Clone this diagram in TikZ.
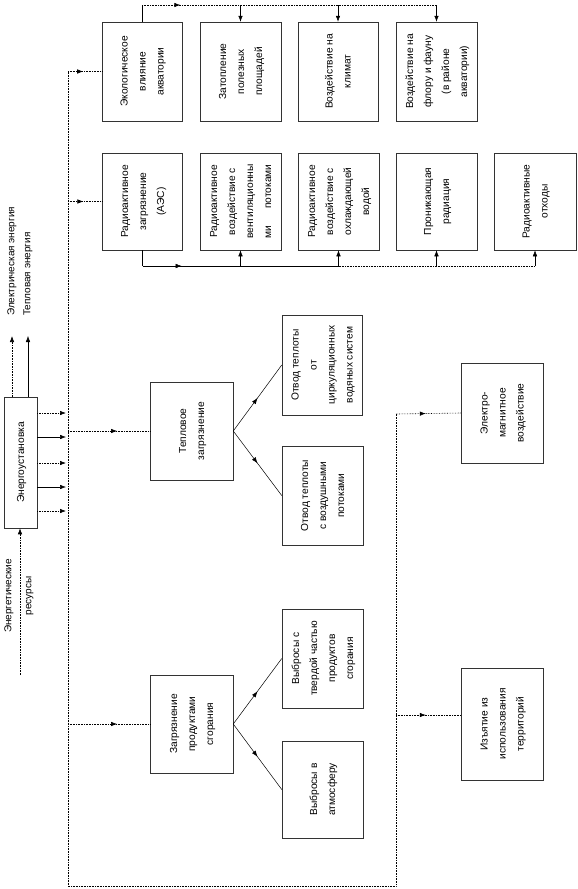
\documentclass[tikz,border=0pt]{standalone}
\usepackage{graphicx}
\usepackage{fontspec}
\setmainfont{Liberation Sans}
\usetikzlibrary{arrows.meta}
\usetikzlibrary{decorations.markings}

\newcommand{\vtxt}[1]{\rotatebox{90}{\begin{tabular}{@{}c@{}}#1\end{tabular}}}

\tikzset{
  box/.style={draw=black!80, line width=0.5pt, inner sep=0pt, minimum width=80pt, minimum height=99pt},
  lbl/.style={rotate=90, inner sep=0pt, align=center, font=\fontsize{10}{20}\selectfont},
  dline/.style={densely dotted, line width=0.6pt},
  sline/.style={line width=0.5pt},
  tip/.style={-{Latex[length=6pt,width=4.5pt]}},
  midtip/.style={postaction={decorate}, decoration={markings,
      mark=at position #1 with {\arrow{Latex[length=6pt,width=4.5pt]}}}},
  midtip/.default=0.5
}

\begin{document}
\begin{tikzpicture}[x=1pt, y=-1pt, font=\fontsize{10.2}{18}\selectfont]
  \useasboundingbox (0,0) rectangle (578,889);

  % energy plant
  \node[box, minimum width=33pt, minimum height=131pt] (plant) at (20.5,462.5) {\vtxt{Энергоустановка}};

  % upper rows
  \node[box] (eco) at (142,71.5) {\vtxt{Экологическое\\влияние\\акватории}};
  \node[box, minimum width=81pt] (flood) at (240.5,71.5) {\vtxt{Затопление\\полезных\\площадей}};
  \node[box] (climate) at (338,71.5) {\vtxt{Воздействие на\\климат}};
  \node[box, minimum width=81pt] (flora) at (436.5,71.5) {\vtxt{Воздействие на\\флору и фауну\\(в районе\\акватории)}};

  \node[box, minimum height=97pt] (radpol) at (142.5,201.5) {\vtxt{Радиоактивное\\загрязнение\\(АЭС)}};
  \node[box, minimum height=97pt, minimum width=81pt] (radvent) at (240.5,201.5) {\vtxt{Радиоактивное\\воздействие с\\вентиляционны\\ми\hfill потоками}};
  \node[box, minimum height=97pt, minimum width=81pt] (radcool) at (338.5,201.5) {\vtxt{Радиоактивное\\воздействие с\\охлаждающей\\водой}};
  \node[box, minimum height=97pt, minimum width=81pt] (penetr) at (436.5,201.5) {\vtxt{Проникающая\\радиация}};
  \node[box, minimum height=97pt, minimum width=82pt] (waste) at (535,201.5) {\vtxt{Радиоактивные\\отходы}};

  % middle
  \node[box, minimum width=83pt, minimum height=98pt] (heat) at (191.5,431) {\vtxt{Тепловое\\загрязнение}};
  \node[box, minimum height=100pt] (heatwater) at (322,365) {\vtxt{Отвод теплоты\\от\\циркуляционных\\водяных систем}};
  \node[box, minimum width=81pt] (heatair) at (322.5,495.5) {\vtxt{Отвод теплоты\\с воздушными\\потоками}};
  \node[box, minimum width=83pt, minimum height=98pt] (comb) at (191.5,724) {\vtxt{Загрязнение\\продуктами\\сгорания}};
  \node[box, minimum width=81pt] (emsolid) at (322.5,658.5) {\vtxt{Выбросы с\\твердой частью\\продуктов\\сгорания}};
  \node[box, minimum width=81pt, minimum height=97pt] (ematm) at (322.5,789.5) {\vtxt{Выбросы в\\атмосферу}};
  \node[box, minimum width=82pt, minimum height=100pt] (emag) at (502,413) {\vtxt{Электро-\\магнитное\\воздействие}};
  \node[box, minimum width=82pt, minimum height=112pt] (land) at (502,724) {\vtxt{Изъятие из\\использования\\территорий}};

  % labels
  \node[lbl, anchor=west] (elecl) at (12,316) {Электрическая энергия};
  \node[lbl, anchor=west] (therml) at (28,316) {Тепловая энергия};
  \node[lbl] (resl) at (19,596) {Энергетические\\ресурсы};

  \coordinate (elec) at (12,336);
  \coordinate (therm) at (28,336);
  \coordinate (res) at (20,675);
  \draw[dline, tip] (plant.north -| elec) -- (elec);
  \draw[sline, tip] (plant.north -| therm) -- (therm);
  \draw[dline, tip] (res) -- (plant.south -| res);

  \foreach \y/\s [count=\i] in {413/dline, 437/sline, 463/dline, 487/sline, 511/dline}{
    \coordinate (out\i) at (66,\y);
    \draw[\s, tip] (plant.east |- out\i) -- (out\i);
  }

  % bus
  \coordinate (busT) at (68,71.5);
  \coordinate (busB) at (68,886);
  \coordinate (busR) at (396,886);
  \coordinate (busU) at (396,414);
  \coordinate (tapR) at (68,201.5);
  \coordinate (tapH) at (68,431);
  \coordinate (tapC) at (68,724);
  \coordinate (tapL) at (396,715);
  \draw[dline] (busT) -- (busB) -- (busR) -- (busU);
  \draw[dline, midtip=0.45] (busT) -- (eco.west);
  \draw[dline, midtip=0.45] (tapR) -- (radpol.west);
  \draw[dline, midtip=0.6] (tapH) -- (heat.west);
  \draw[dline, midtip=0.6] (tapC) -- (comb.west);
  \draw[dline, midtip=0.46] (busU) -- (emag.west);
  \draw[dline, midtip=0.46] (tapL) -- (tapL -| land.west);

  \draw[sline, midtip] (heat.east) -- (heatwater.west);
  \draw[sline, midtip] (heat.east) -- (heatair.west);
  \draw[sline, midtip] (comb.east) -- (emsolid.west);
  \draw[sline, midtip] (comb.east) -- (ematm.west);

  % top and bottom brackets
  \coordinate (tl) at (0,5);
  \draw[sline] (eco.north) -- (eco.north |- tl);
  \draw[dline, midtip=0.13] (eco.north |- tl) -- (flora.north |- tl);
  \foreach \n in {flood, climate, flora}
    \draw[sline, tip] (\n.north |- tl) -- (\n.north);

  \coordinate (bl) at (0,266);
  \draw[sline] (radpol.south) -- (radpol.south |- bl);
  \draw[sline, midtip=0.2] (radpol.south |- bl) -- (radcool.south |- bl);
  \draw[dline] (radcool.south |- bl) -- (waste.south |- bl);
  \foreach \n in {radvent, radcool, penetr, waste}
    \draw[sline, tip] (\n.south |- bl) -- (\n.south);
\end{tikzpicture}
\end{document}
